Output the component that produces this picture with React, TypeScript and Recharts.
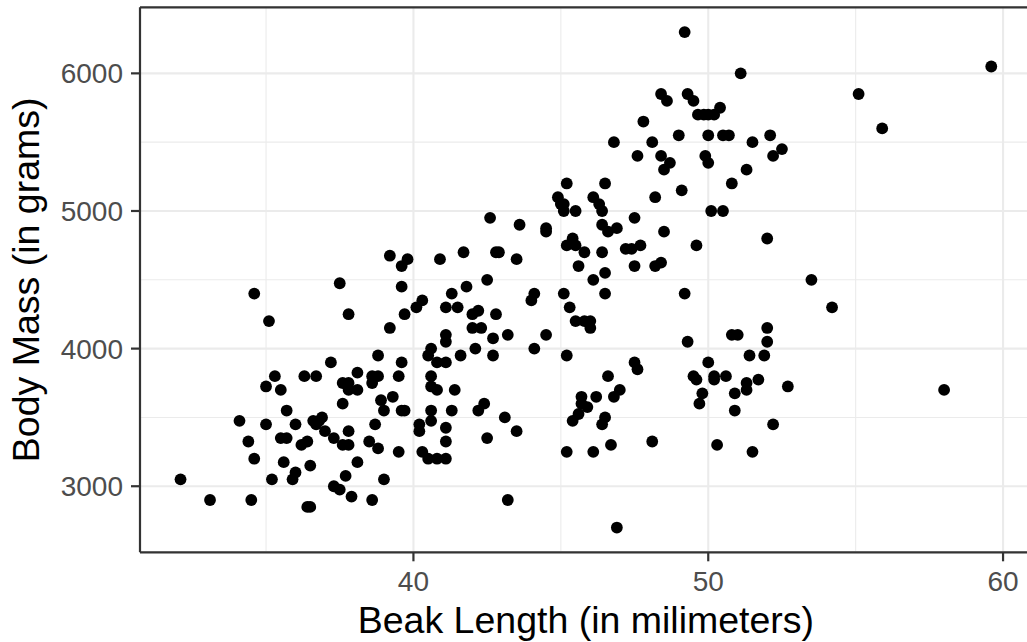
import { ScatterChart, Scatter, XAxis, YAxis, CartesianGrid, ReferenceLine } from 'recharts'

// [beak length (mm), body mass (g)], grouped by region
const lowerLeft: [number, number][] = [
  [34.6, 4400], [35.1, 4200], [37.5, 4475], [37.8, 4250], [39.2, 4675], [39.8, 4650], [39.6, 4600],
  [40.9, 4650], [39.6, 4450], [40.3, 4350], [40.1, 4300], [39.7, 4250], [39.2, 4150], [40.6, 4000],
  [40.5, 3950], [40.8, 3900], [37.2, 3900], [38.8, 3950], [39.6, 3900], [38.1, 3825], [35.3, 3800],
  [35.0, 3725], [35.5, 3700], [36.3, 3800], [36.7, 3800], [37.6, 3750], [37.8, 3750], [37.8, 3700],
  [38.1, 3700], [38.6, 3800], [38.8, 3800], [38.6, 3750], [39.5, 3800], [40.6, 3800], [40.6, 3725],
  [40.8, 3700], [37.6, 3600], [39.0, 3550], [38.9, 3625], [39.3, 3650], [39.6, 3550], [39.7, 3550],
  [40.6, 3550], [40.6, 3475], [40.2, 3450], [40.2, 3400], [40.3, 3250], [40.5, 3200], [40.8, 3200],
  [35.7, 3550], [34.1, 3475], [35.0, 3450], [36.0, 3450], [36.6, 3475], [36.7, 3450], [36.9, 3500],
  [36.8, 3475], [37.0, 3400], [37.3, 3350], [37.6, 3300], [37.8, 3300], [37.8, 3400], [38.7, 3450],
  [38.5, 3325], [38.8, 3275], [39.5, 3250], [34.4, 3325], [34.6, 3200], [35.5, 3350], [35.7, 3350],
  [36.2, 3300], [36.4, 3325], [35.6, 3175], [36.0, 3100], [35.9, 3050], [35.2, 3050], [36.5, 3150],
  [37.7, 3075], [38.1, 3175], [37.3, 3000], [37.5, 2975], [37.9, 2925], [38.6, 2900], [39.0, 3050],
  [36.4, 2850], [36.5, 2850], [32.1, 3050], [33.1, 2900], [34.5, 2900],
]

const middle: [number, number][] = [
  [42.6, 4950], [43.6, 4900], [41.7, 4700], [42.8, 4700], [42.9, 4700], [43.5, 4650], [42.5, 4500],
  [41.8, 4450], [41.3, 4400], [41.1, 4300], [41.5, 4300], [42.0, 4250], [42.2, 4275], [42.8, 4250],
  [41.1, 4100], [41.1, 4050], [42.0, 4150], [42.3, 4150], [42.7, 4075], [43.2, 4100], [42.1, 4000],
  [41.6, 3950], [42.7, 3950], [41.1, 3900], [44.1, 4000], [44.5, 4100], [41.4, 3700], [41.3, 3550],
  [41.1, 3425], [41.1, 3325], [41.1, 3200], [42.2, 3550], [42.4, 3600], [42.5, 3350], [43.1, 3500],
  [43.5, 3400], [44.0, 4350], [44.1, 4400],
]

const upperRight: [number, number][] = [
  [49.2, 6300], [48.4, 5850], [48.6, 5800], [49.3, 5850], [49.5, 5800], [50.4, 5750], [49.65, 5700],
  [49.85, 5700], [50.0, 5700], [50.2, 5700], [47.8, 5650], [46.8, 5500], [48.1, 5500], [49.0, 5550],
  [50.0, 5550], [50.5, 5550], [50.7, 5550], [47.6, 5400], [48.4, 5400], [48.7, 5350], [48.5, 5300],
  [49.9, 5400], [50.0, 5350], [45.2, 5200], [46.5, 5200], [50.8, 5200], [51.1, 6000], [55.1, 5850],
  [55.9, 5600], [59.6, 6050], [51.5, 5500], [52.1, 5550], [52.5, 5450], [52.2, 5400], [51.3, 5300],
  [44.9, 5100], [45.0, 5050], [45.1, 5050], [45.1, 5000], [45.5, 5000], [46.1, 5100], [46.3, 5050],
  [46.4, 5000], [48.2, 5100], [49.1, 5150], [50.1, 5000], [50.5, 5000], [44.5, 4875], [44.5, 4850],
  [47.5, 4950], [48.5, 4850], [49.6, 4750], [46.4, 4900], [46.6, 4850], [46.9, 4875], [45.4, 4800],
  [45.2, 4750], [45.5, 4750], [45.8, 4700], [46.4, 4700], [45.6, 4600], [46.5, 4550], [46.1, 4500],
  [47.2, 4725], [47.4, 4725], [47.7, 4750], [47.5, 4600], [48.2, 4600], [48.4, 4625], [45.1, 4400],
  [45.3, 4300], [45.5, 4200], [45.8, 4200], [46.0, 4200], [46.0, 4150], [46.5, 4400], [49.2, 4400],
  [52.0, 4800], [53.5, 4500], [54.2, 4300], [52.0, 4150], [52.0, 4050], [50.8, 4100], [51.0, 4100],
  [49.3, 4050],
]

const lowerRight: [number, number][] = [
  [45.2, 3950], [47.5, 3900], [47.6, 3850], [50.0, 3900], [51.4, 3950], [51.9, 3950], [43.2, 2900],
  [46.9, 2700], [45.2, 3250], [46.1, 3250], [46.7, 3300], [48.1, 3325], [50.3, 3300], [45.4, 3475],
  [45.6, 3525], [45.7, 3650], [45.7, 3600], [45.9, 3575], [46.2, 3650], [46.4, 3450], [46.5, 3500],
  [46.6, 3800], [46.8, 3650], [47.0, 3700], [49.5, 3800], [49.6, 3775], [50.2, 3800], [50.2, 3775],
  [50.6, 3800], [49.8, 3675], [49.7, 3600], [51.3, 3750], [51.3, 3700], [51.7, 3775], [50.9, 3675],
  [52.7, 3725], [50.9, 3550], [52.2, 3450], [51.5, 3250], [58.0, 3700],
]

const xTicks = [40, 50, 60]
const xMinor = [35, 45, 55]
const yTicks = [3000, 4000, 5000, 6000]
const yMinor = [3500, 4500, 5500]
const xDomain: [number, number] = [30.725, 60.975]
const yDomain: [number, number] = [2520, 6480]

const FONT = '"Liberation Sans", Arial, Helvetica, sans-serif'
const GRID = '#EBEBEB'
const INK = '#333333'

const points = [...lowerLeft, ...middle, ...upperRight, ...lowerRight].map(([x, y]) => ({ x, y }))

const Dot = (props: any) => <circle cx={props.cx} cy={props.cy} r={5.9} fill="#000" />

export default function App() {
  return (
    <div
      style={{
        position: 'fixed',
        left: 0,
        top: 0,
        width: 1027,
        height: 642,
        overflow: 'hidden',
        background: '#fff',
      }}
    >
      <ScatterChart width={1040} height={642} margin={{ top: 7.3, right: 8.2, bottom: 0, left: 0 }}>
        <CartesianGrid stroke={GRID} strokeWidth={2.1} />
        {xMinor.map((v) => (
          <ReferenceLine key={'x' + v} x={v} stroke={GRID} strokeWidth={1.1} />
        ))}
        {yMinor.map((v) => (
          <ReferenceLine key={'y' + v} y={v} stroke={GRID} strokeWidth={1.1} />
        ))}
        <ReferenceLine y={yDomain[1]} stroke={INK} strokeWidth={2.2} />
        <XAxis
          type="number"
          dataKey="x"
          domain={xDomain}
          ticks={xTicks}
          height={89.7}
          tickSize={9}
          tickMargin={10}
          axisLine={{ stroke: INK, strokeWidth: 2.2 }}
          tickLine={{ stroke: INK, strokeWidth: 2.2 }}
          tick={{ fill: '#4D4D4D', fontSize: 28, fontFamily: FONT }}
          label={{
            content: (p: any) => (
              <text
                x={p.viewBox.x + p.viewBox.width / 2}
                y={p.viewBox.y + 81}
                textAnchor="middle"
                fill="#000"
                fontSize={37.5}
                fontFamily={FONT}
              >
                Beak Length (in milimeters)
              </text>
            ),
          }}
        />
        <YAxis
          type="number"
          dataKey="y"
          domain={yDomain}
          ticks={yTicks}
          width={140}
          tickSize={9}
          tickMargin={8}
          axisLine={{ stroke: INK, strokeWidth: 2.2 }}
          tickLine={{ stroke: INK, strokeWidth: 2.2 }}
          tick={{ fill: '#4D4D4D', fontSize: 28, fontFamily: FONT }}
          label={{
            content: (p: any) => {
              const cx = p.viewBox.x + 39.4
              const cy = p.viewBox.y + p.viewBox.height / 2
              return (
                <text
                  x={cx}
                  y={cy}
                  transform={`rotate(-90 ${cx} ${cy})`}
                  textAnchor="middle"
                  fill="#000"
                  fontSize={37.5}
                  fontFamily={FONT}
                >
                  Body Mass (in grams)
                </text>
              )
            },
          }}
        />
        <Scatter data={points} shape={Dot} isAnimationActive={false} />
      </ScatterChart>
    </div>
  )
}
